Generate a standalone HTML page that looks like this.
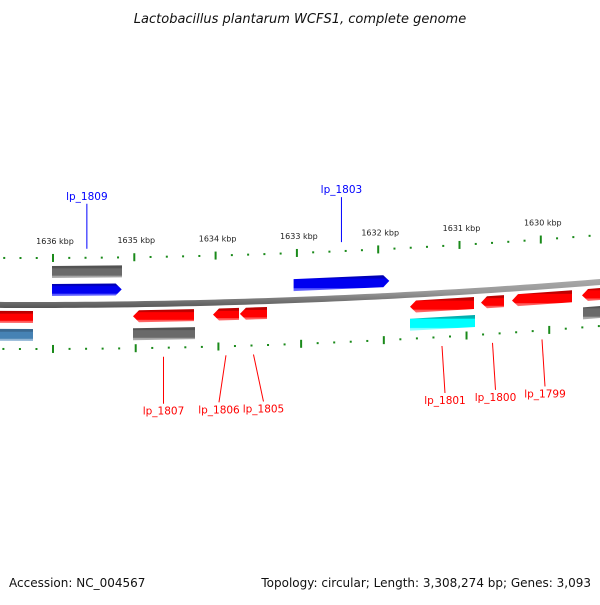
<!DOCTYPE html>
<html><head><meta charset="utf-8"><style>
body{margin:0;background:#fff}
svg text{font-family:"DejaVu Sans","Liberation Sans",sans-serif}
</style></head><body>
<svg id="c" width="600" height="600" viewBox="0 0 600 600">
<defs>
<linearGradient id="g-red" x1="0" y1="0" x2="0" y2="1"><stop offset="0" stop-color="#b00000"/><stop offset="0.22" stop-color="#c80000"/><stop offset="0.25" stop-color="#ff0000"/><stop offset="0.8" stop-color="#ff0000"/><stop offset="0.83" stop-color="#ff5050"/><stop offset="1" stop-color="#ff7070"/></linearGradient>
<linearGradient id="g-blue" x1="0" y1="0" x2="0" y2="1"><stop offset="0" stop-color="#0000a8"/><stop offset="0.2" stop-color="#0000c8"/><stop offset="0.23" stop-color="#0000f0"/><stop offset="0.8" stop-color="#0000f0"/><stop offset="0.83" stop-color="#5050ff"/><stop offset="1" stop-color="#7070ff"/></linearGradient>
<linearGradient id="g-gray" x1="0" y1="0" x2="0" y2="1"><stop offset="0" stop-color="#505050"/><stop offset="0.22" stop-color="#555"/><stop offset="0.25" stop-color="#6a6a6a"/><stop offset="0.8" stop-color="#6a6a6a"/><stop offset="0.83" stop-color="#a0a0a0"/><stop offset="1" stop-color="#b0b0b0"/></linearGradient>
<linearGradient id="g-cyan" x1="0" y1="0" x2="0" y2="1"><stop offset="0" stop-color="#00a8a8"/><stop offset="0.22" stop-color="#00b8b8"/><stop offset="0.25" stop-color="#00ffff"/><stop offset="0.8" stop-color="#00ffff"/><stop offset="0.83" stop-color="#70ffff"/><stop offset="1" stop-color="#a0ffff"/></linearGradient>
<linearGradient id="g-steel" x1="0" y1="0" x2="0" y2="1"><stop offset="0" stop-color="#3a6890"/><stop offset="0.22" stop-color="#3a6890"/><stop offset="0.25" stop-color="#4682b4"/><stop offset="0.8" stop-color="#4682b4"/><stop offset="0.83" stop-color="#8ab0d0"/><stop offset="1" stop-color="#a0c0dd"/></linearGradient>
<linearGradient id="g-bb" x1="0" y1="0" x2="0" y2="1"><stop offset="0" stop-color="#aaa"/><stop offset="0.45" stop-color="#999"/><stop offset="1" stop-color="#555"/></linearGradient>
</defs>
<text x="300" y="23" text-anchor="middle" font-size="13" font-style="italic" fill="#111">Lactobacillus plantarum WCFS1, complete genome</text>
<text x="9" y="587" font-size="12" fill="#111">Accession: NC_004567</text>
<text x="591" y="587" text-anchor="end" font-size="12" fill="#111">Topology: circular; Length: 3,308,274 bp; Genes: 3,093</text>
<g id="layer"></g>
</svg>
<script>
const majorTicks=[1637000,1636000,1635000,1634000,1633000,1632000,1631000,1630000,1629000];
const tickLabels=["","1636 kbp","1635 kbp","1634 kbp","1633 kbp","1632 kbp","1631 kbp","1630 kbp",""];
const geneStarts=[1636012,1636012,1633059,1636645,1636642,1635027,1635030,1634054,1633726,1631658,1631672,1630794,1630417,1629565,1629575];
const geneEnds=[1635154,1635160,1631888,1636243,1636242,1634285,1634279,1633738,1633397,1630879,1630884,1630514,1629687,1629200,1629200];
const geneStrand=[0,1,1,0,0,-1,0,-1,-1,-1,0,-1,-1,-1,0];
const geneLane=[31,13,13,-14,-32,-14,-32,-14,-14,-14,-32,-14,-14,-14,-32];
const geneColor=["gray","blue","blue","red","steel","red","gray","red","red","red","cyan","red","red","red","gray"];
const geneLabels=["","lp_1809","lp_1803","","","lp_1807","","lp_1806","lp_1805","lp_1801","","lp_1800","lp_1799","",""];
const labelDx=[0,0,0,0,0,0,0,-7,10,3,0,3,3,0,0];

const NS="http://www.w3.org/2000/svg";
const layer=document.getElementById('layer');
function X(bp,o){const f=1-(o-45)*0.00019;return 53+(1636000-bp)*0.0813*f;}
function Y(x,o){return 303-o-(x-30)*(x-30)/14126;}
function mk(t,a){const e=document.createElementNS(NS,t);for(const k in a)e.setAttribute(k,a[k]);layer.appendChild(e);return e;}

// backbone
let pts=[];for(let x=-5;x<=605;x+=10)pts.push(x+','+Y(x,0).toFixed(2));
let ptsB=[];for(let x=605;x>=-5;x-=10)ptsB.push(x+','+(Y(x,0)+5).toFixed(2));
const bb=mk('polygon',{points:pts.map(p=>{const [a,b]=p.split(',');return a+','+(b-1);}).concat(ptsB).join(' '),fill:'url(#g-bb)'});



// tick rings
[[45,'outer'],[-46,'inner']].forEach(([o,nm])=>{
  for(let i=0;i<majorTicks.length-1;i++){
    for(let j=0;j<5;j++){
      const bp=majorTicks[i]-j*200;
      const x=X(bp,o);if(x<-2||x>602)continue;
      const y=Y(x,o);
      const t=mk('line',{x1:x,x2:x,y1:j==0?y-4:y-1,y2:j==0?y+4:y+1,stroke:'#1a8a1a','stroke-width':2});
      
      
    }
    if(o>0&&tickLabels[i]){
      const x=X(majorTicks[i],o);
      const lb=mk('text',{x:x+2,y:Y(x,o)-14,'font-size':8,fill:'#222','text-anchor':'middle'});
      lb.textContent=tickLabels[i];
      
      
    }
  }
});

// genes
for(let i=0;i<geneStarts.length;i++){
  const o=geneLane[i];
  const x1=X(geneStarts[i],o),x2=X(geneEnds[i],o);
  const h=6,ah=6;
  const yt=x=>Y(x,o)-h,yb=x=>Y(x,o)+h,ym=x=>Y(x,o);
  let p;
  if(geneStrand[i]==1){
    const xa=x2-ah;
    p=[[x1,yt(x1)],[xa,yt(xa)],[x2,ym(x2)],[xa,yb(xa)],[x1,yb(x1)]];
  }else if(geneStrand[i]==-1){
    const xa=x1+ah;
    p=[[x1,ym(x1)],[xa,yt(xa)],[x2,yt(x2)],[x2,yb(x2)],[xa,yb(xa)]];
  }else{
    p=[[x1,yt(x1)],[x2,yt(x2)],[x2,yb(x2)],[x1,yb(x1)]];
  }
  const g=mk('polygon',{points:p.map(q=>q[0].toFixed(1)+','+q[1].toFixed(1)).join(' '),fill:'url(#g-'+geneColor[i]+')'});
  
  
  if(geneLabels[i]){
    const xm=(x1+x2)/2;
    const col=o>0?'#0000ff':'#ff0000';
    const outerR=o>0?45:-46;
    const ys=Y(xm,outerR)+(o>0?-9:9);
    const ye=o>0?ys-45:ys+47;
    const xe=xm+labelDx[i];
    const ln=mk('line',{x1:xm,y1:ys,x2:xe,y2:ye,stroke:col,'stroke-width':1});
    
    
    const tx=mk('text',{x:xe,y:o>0?ye-4:ye+11,'font-size':10.5,fill:col,'text-anchor':'middle'});
    tx.textContent=geneLabels[i];
    
    
  }
}
</script>
</body></html>
